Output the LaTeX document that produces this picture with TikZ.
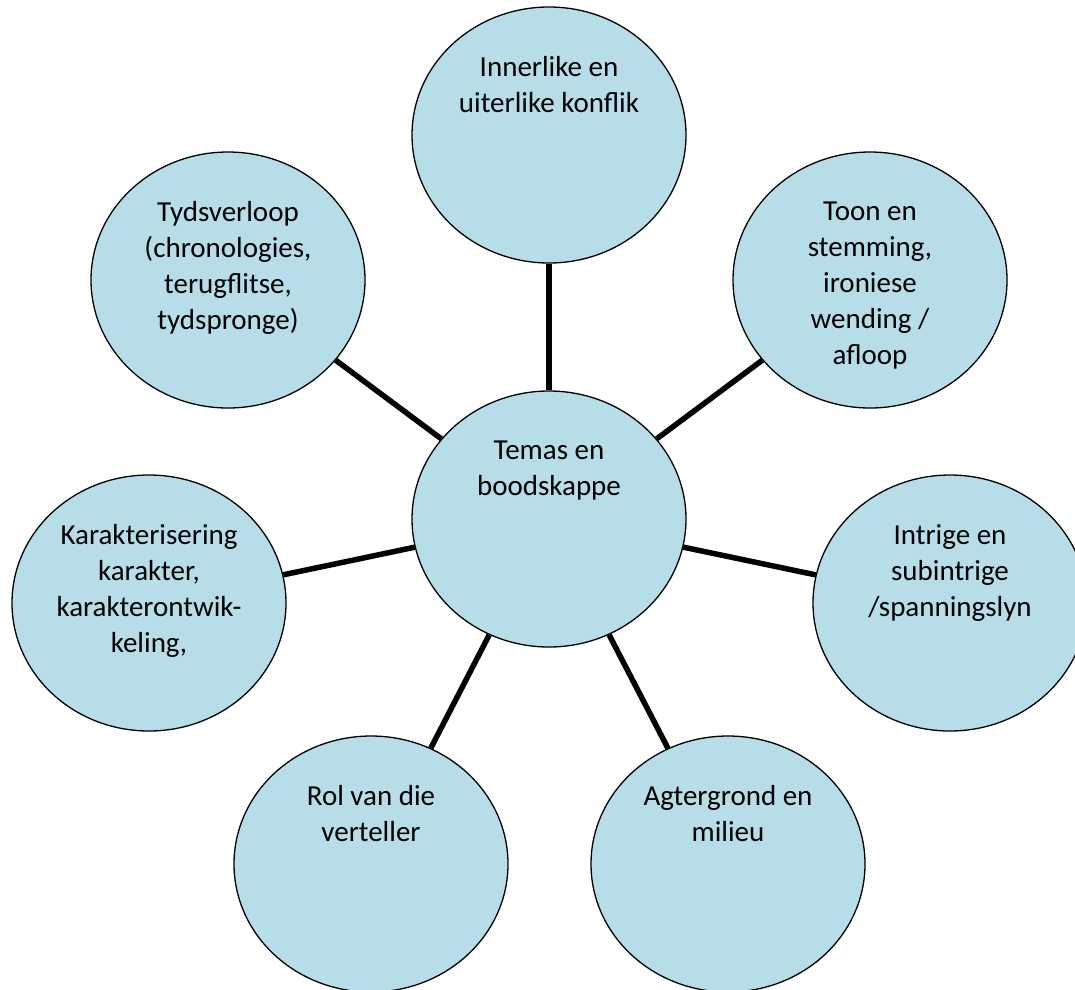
\documentclass[tikz,border=0pt]{standalone}
\usepackage{fontspec}
\setmainfont{Carlito}
\usetikzlibrary{shapes.geometric,backgrounds}
\definecolor{bubfill}{HTML}{B7DEE8}
\tikzset{
  bub/.style={ellipse, draw=black, line width=1.3pt, fill=bubfill,
    minimum width=274pt, minimum height=256pt, inner sep=0pt},
  txt/.style={anchor=north, align=center, inner sep=0pt,
    font=\fontsize{29}{36}\selectfont, text=black},
  link/.style={line width=5.5pt, black}
}
\begin{document}
\begin{tikzpicture}[x=1pt,y=-1pt]
\useasboundingbox (0,0) rectangle (1075,989);
\clip (0,0) rectangle (1075,989);
\node[bub] (inner) at (549,135) {};
\node[bub] (tyds) at (228,280) {};
\node[bub] (toon) at (870,280) {};
\node[bub] (temas) at (549,519) {};
\node[bub] (karak) at (149,603) {};
\node[bub] (intr) at (950,603) {};
\node[bub] (rol) at (371,864) {};
\node[bub] (agter) at (728,864) {};

\begin{scope}[on background layer]
\draw[link] (temas) -- (inner);
\draw[link] (temas) -- (tyds);
\draw[link] (temas) -- (toon);
\draw[link] (temas) -- (karak);
\draw[link] (temas) -- (intr);
\draw[link] (temas) -- (rol);
\draw[link] (temas) -- (agter);
\end{scope}

\node[txt] (tinner) at ([yshift=-50pt]inner.north) {Innerlike en\\uiterlike konflik};
\node[txt] (ttyds) at ([yshift=-50pt]tyds.north) {Tydsverloop\\(chronologies,\\terugflitse,\\tydspronge)};
\node[txt] (ttoon) at ([yshift=-50pt]toon.north) {Toon en\\stemming,\\ironiese\\wending /\\afloop};
\node[txt] (ttemas) at ([yshift=-50pt]temas.north) {Temas en\\boodskappe};
\node[txt] (tkarak) at ([yshift=-50pt]karak.north) {Karakterisering\\karakter,\\karakterontwik-\\keling,};
\node[txt] (tintr) at ([yshift=-50pt]intr.north) {Intrige en\\subintrige\\/spanningslyn};
\node[txt] (trol) at ([yshift=-50pt]rol.north) {Rol van die\\verteller};
\node[txt] (tagter) at ([yshift=-50pt]agter.north) {Agtergrond en\\milieu};
\end{tikzpicture}
\end{document}
